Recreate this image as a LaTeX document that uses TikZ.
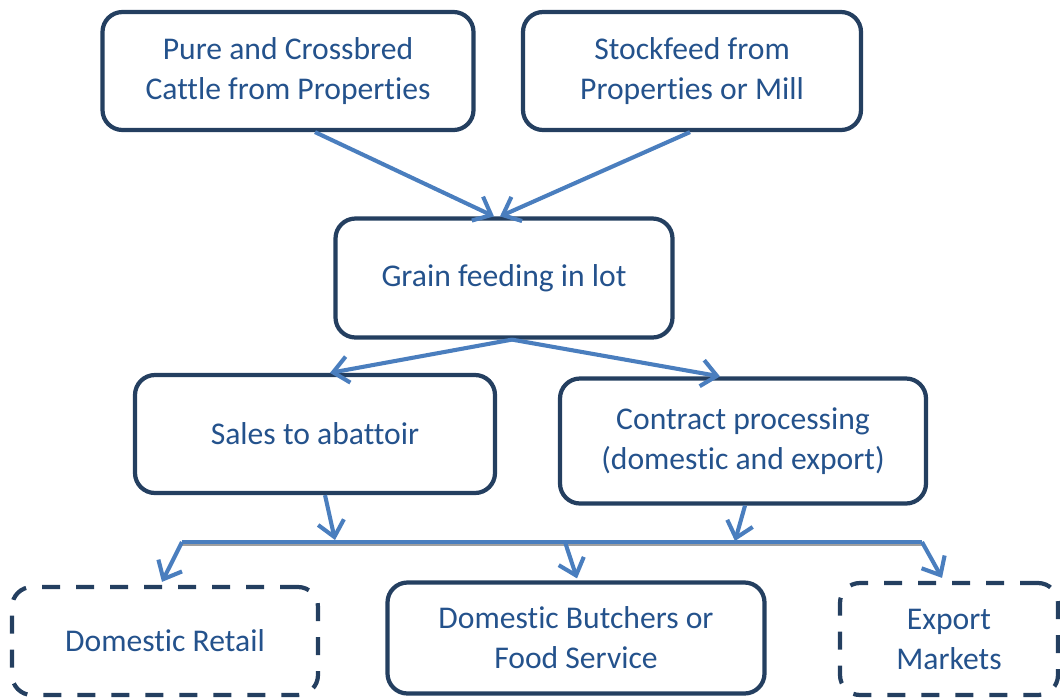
\documentclass[tikz,border=0pt]{standalone}
\usepackage{fontspec}
\setmainfont{Carlito}[Ligatures=NoCommon]
\usepackage{tikz}
\usetikzlibrary{positioning}
\usetikzlibrary{arrows.meta}
\definecolor{boxBorder}{RGB}{36,63,96}
\definecolor{boxText}{RGB}{36,82,140}
\definecolor{flowBlue}{RGB}{74,126,190}

\begin{document}
\begin{tikzpicture}[
	block/.style = { rectangle, rounded corners=0.5cm, draw=boxBorder, line width=3pt, text=boxText, align=center, font=\fontsize{22.5}{28.5}\selectfont, inner sep=0pt },
	outlet/.style = { block, dash pattern=on 0.45cm off 0.4cm },
	flow/.style = { draw=flowBlue, line width=2.9pt, -{Straight Barb[length=0.38cm,width=0.66cm]} },
	bar/.style = { draw=flowBlue, line width=2.9pt },
	barshadow/.style = { draw=gray!75, line width=2.4pt },
	]
	\def\oneUnit{0.5cm}
	
	\useasboundingbox (0,0) rectangle (53*\oneUnit,-34.85*\oneUnit);
	
	\node[block, minimum width=9.275cm, minimum height=2.95cm] (PURE) at (14.4*\oneUnit,-3.55*\oneUnit) {Pure and Crossbred\\Cattle from Properties};
	\node[block, minimum width=8.45cm, minimum height=2.95cm] (STOCK) at (34.6*\oneUnit,-3.55*\oneUnit) {Stockfeed from\\Properties or Mill};
	
	\node[block, minimum width=8.425cm, minimum height=2.975cm] (GRAIN) at (25.2*\oneUnit,-13.9*\oneUnit) {Grain feeding in lot};
	
	\node[block, minimum width=9cm, minimum height=2.95cm] (SALES) at (15.75*\oneUnit,-21.7*\oneUnit) {Sales to abattoir};
	\node[block, minimum width=9.15cm, minimum height=3.125cm] (CONTRACT) at (37.15*\oneUnit,-22.05*\oneUnit) {Contract processing\\(domestic and export)};
	
	\node[outlet, minimum width=7.65cm, minimum height=2.7cm] (RETAIL) at (8.25*\oneUnit,-32.05*\oneUnit) {Domestic Retail};
	\node[block, minimum width=9.425cm, minimum height=2.775cm] (BUTCHER) at (28.8*\oneUnit,-31.9*\oneUnit) {Domestic Butchers or\\Food Service};
	\node[outlet, minimum width=5.45cm, minimum height=2.8cm] (EXPORT) at (47.45*\oneUnit,-31.95*\oneUnit) {Export\\Markets};
	
	\coordinate (barL) at (9.1*\oneUnit,-27.1*\oneUnit);
	\coordinate (barR) at (46.1*\oneUnit,-27.1*\oneUnit);
	\coordinate (barSales) at (16.75*\oneUnit,-27.0*\oneUnit);
	\coordinate (barContract) at (36.75*\oneUnit,-27.05*\oneUnit);
	\coordinate (barMid) at (28.25*\oneUnit,-27.1*\oneUnit);
	
	\draw[barshadow] ([yshift=-0.07cm]barL) -- ([yshift=-0.07cm]barR);
	\draw[bar] (barL) -- (barR);
	
	\draw[flow] ([xshift=1.35*\oneUnit]PURE.south) -- ([xshift=-0.5*\oneUnit]GRAIN.north);
	\draw[flow] ([xshift=-0.1*\oneUnit]STOCK.south) -- ([xshift=-0.2*\oneUnit]GRAIN.north);
	
	\draw[flow] ([xshift=0.4*\oneUnit]GRAIN.south) -- ([xshift=0.75*\oneUnit]SALES.north);
	\draw[flow] ([xshift=0.4*\oneUnit]GRAIN.south) -- ([xshift=-1.15*\oneUnit]CONTRACT.north);
	
	\draw[flow] ([xshift=0.5*\oneUnit]SALES.south) -- (barSales);
	\draw[flow] ([xshift=0.1*\oneUnit]CONTRACT.south) -- (barContract);
	
	\draw[flow] (barL) -- ([xshift=-0.15*\oneUnit,yshift=0.15*\oneUnit]RETAIL.north);
	\draw[flow] (barMid) -- ([xshift=0.05*\oneUnit,yshift=0.1*\oneUnit]BUTCHER.north);
	\draw[flow] (barR) -- ([xshift=-0.35*\oneUnit,yshift=0.15*\oneUnit]EXPORT.north);
	
\end{tikzpicture}
\end{document}
